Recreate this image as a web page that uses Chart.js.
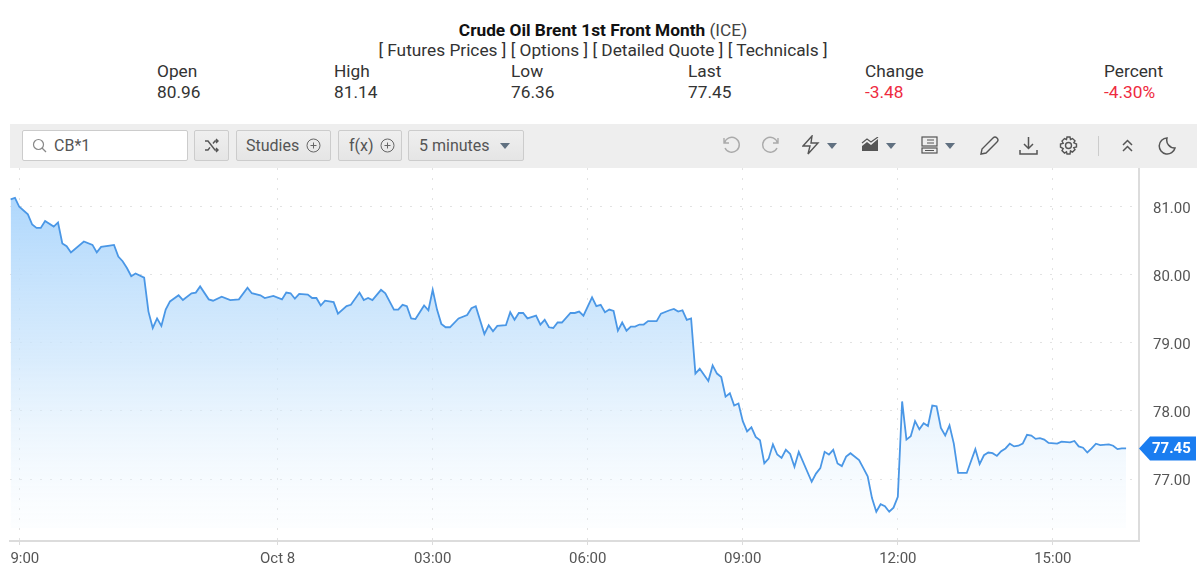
<!DOCTYPE html>
<html>
<head>
<meta charset="utf-8">
<title>Crude Oil Brent 1st Front Month</title>
<script src="https://cdn.jsdelivr.net/npm/chart.js@4"></script>
<style>
    html, body { margin: 0; padding: 0; background: #fff; overflow: hidden; }
    body { width: 1200px; height: 570px; position: relative; font-family: Roboto, sans-serif; font-size: 17.3px; color: #333; }
    .center { position: absolute; left: 0; width: 1206px; text-align: center; line-height: 20px; }
    .title { top: 20px; color: #444; }
    .title b { color: #111; font-weight: 700; }
    .links { top: 40px; }
    .stat { position: absolute; top: 61px; line-height: 21px; }
    .red { color: #ee2b3f; }
    #toolbar { position: absolute; left: 10px; top: 124px; width: 1187px; height: 44px; background: #eee; }
    .box { position: absolute; top: 6px; height: 29px; box-sizing: content-box; border: 1px solid #ccc; border-radius: 2px; background: linear-gradient(#efefef, #e5e5e5); color: #555; line-height: 29px; font-size: 16px; white-space: nowrap; }
    .box span { position: absolute; top: 0; }
    .box svg, #toolbar > svg { position: absolute; }
    #chartWrap { position: absolute; left: 0; top: 168px; width: 1200px; height: 402px; }
</style>
</head>
<body>
<div class="center title"><b>Crude Oil Brent 1st Front Month</b> (ICE)</div>
<div class="center links">[ Futures Prices ] [ Options ] [ Detailed Quote ] [ Technicals ]</div>
<div class="stat" style="left:157px">Open<br>80.96</div>
<div class="stat" style="left:334px">High<br>81.14</div>
<div class="stat" style="left:511px">Low<br>76.36</div>
<div class="stat" style="left:688px">Last<br>77.45</div>
<div class="stat" style="left:865px">Change<br><span class="red">-3.48</span></div>
<div class="stat" style="left:1104px">Percent<br><span class="red">-4.30%</span></div>

<div id="toolbar">
    <div class="box" style="left:12px;width:164px;background:#fff;">
        <svg style="left:9px;top:7px" width="15" height="15" viewBox="0 0 15 15" fill="none" stroke="#888" stroke-width="1.2"><circle cx="6.5" cy="6.5" r="5"/><path d="M10 10l4 4"/></svg>
        <span style="left:31px">CB*1</span>
    </div>
    <div class="box" style="left:184px;width:33px;">
        <svg style="left:9px;top:7px" width="15" height="15" viewBox="0 0 15 15" fill="none" stroke="#555" stroke-width="1.4"><path d="M1 3h3l7 9h3M1 12h3l2-2.6M9 5.5L11 3h3M12 1l2 2-2 2M12 10l2 2-2 2"/></svg>
    </div>
    <div class="box" style="left:226px;width:93px;">
        <span style="left:9px">Studies</span>
        <svg style="left:69px;top:7px" width="15" height="15" viewBox="0 0 15 15" fill="none" stroke="#666" stroke-width="1"><circle cx="7.5" cy="7.5" r="6.5"/><path d="M7.5 4.5v6M4.5 7.5h6"/></svg>
    </div>
    <div class="box" style="left:328px;width:62px;">
        <span style="left:10px">f(x)</span>
        <svg style="left:41px;top:7px" width="15" height="15" viewBox="0 0 15 15" fill="none" stroke="#666" stroke-width="1"><circle cx="7.5" cy="7.5" r="6.5"/><path d="M7.5 4.5v6M4.5 7.5h6"/></svg>
    </div>
    <div class="box" style="left:398px;width:114px;">
        <span style="left:10px">5 minutes</span>
        <svg style="left:90px;top:11px" width="12" height="8" viewBox="0 0 12 8"><path d="M1 1h10L6 7z" fill="#607080"/></svg>
    </div>
    <svg style="left:711px;top:11px" width="20" height="20" viewBox="0 0 20 20" fill="none" stroke="#aaa" stroke-width="1.4"><path d="M3 3v5h5M3.5 8A7.5 7.5 0 1 1 4 13"/></svg>
    <svg style="left:751px;top:11px" width="20" height="20" viewBox="0 0 20 20" fill="none" stroke="#aaa" stroke-width="1.4"><path d="M17 3v5h-5M16.5 8A7.5 7.5 0 1 0 16 13"/></svg>
    <svg style="left:792px;top:11px" width="18" height="20" viewBox="0 0 18 20" fill="none" stroke="#555" stroke-width="1.4"><path d="M10 1L1 11h7l-2 8 10-11H9z"/></svg>
    <svg style="left:816px;top:18px" width="12" height="8" viewBox="0 0 12 8"><path d="M1 1h10L6 7z" fill="#607080"/></svg>
    <svg style="left:851px;top:13px" width="19" height="16" viewBox="0 0 19 16"><path d="M1 9l5-4 4 3 7-6v12H1z" fill="#555"/><path d="M1 6l5-4 4 3 7-5" fill="none" stroke="#555" stroke-width="1.2"/></svg>
    <svg style="left:875px;top:18px" width="12" height="8" viewBox="0 0 12 8"><path d="M1 1h10L6 7z" fill="#607080"/></svg>
    <svg style="left:911px;top:12px" width="17" height="18" viewBox="0 0 17 18" fill="none" stroke="#555" stroke-width="1.2"><rect x="1" y="1" width="15" height="9"/><rect x="1" y="12" width="15" height="5"/><path d="M6 4h7M6 7h7M4 14.5h9"/></svg>
    <svg style="left:934px;top:18px" width="12" height="8" viewBox="0 0 12 8"><path d="M1 1h10L6 7z" fill="#607080"/></svg>
    <svg style="left:969px;top:12px" width="20" height="20" viewBox="0 0 20 20" fill="none" stroke="#555" stroke-width="1.4"><path d="M2 18l1-5L14 2a2 2 0 0 1 4 4L7 17z"/></svg>
    <svg style="left:1009px;top:12px" width="19" height="19" viewBox="0 0 19 19" fill="none" stroke="#555" stroke-width="1.5"><path d="M9.5 1v11M5 8l4.5 4.5L14 8M1 14v4h17v-4"/></svg>
    <svg style="left:1049px;top:12px" width="19" height="19" viewBox="0 0 19 19" fill="none" stroke="#555" stroke-width="1.4"><circle cx="9.5" cy="9.5" r="3"/><path d="M8 1h3l.5 2.5 2-1 2.5 2.3-1.2 2L17.5 8v3l-2.7.6 1.2 2-2.5 2.4-2-1.2L11 18H8l-.5-2.2-2 1.2L3 14.6l1.2-2L1.5 11V8l2.7-.8L3 5l2.5-2.5 2 1z"/></svg>
    <svg style="left:1088px;top:12px" width="1" height="20"><rect width="1" height="20" fill="#ccc"/></svg>
    <svg style="left:1111px;top:15px" width="13" height="14" viewBox="0 0 13 14" fill="none" stroke="#555" stroke-width="1.5"><path d="M2 6l4.5-4.5L11 6M2 12l4.5-4.5L11 12"/></svg>
    <svg style="left:1148px;top:13px" width="18" height="18" viewBox="0 0 18 18" fill="none" stroke="#555" stroke-width="1.5"><path d="M9 1a8 8 0 1 0 8 10A8 8 0 0 1 9 1z"/></svg>
</div>

<div id="chartWrap"><canvas id="brentChart" width="1200" height="402"></canvas></div>

<script>
// 5 minute bar number of every turning point
const bars = [0, 1, 2, 4, 5, 6, 7, 8, 10, 11, 12, 13, 14, 17, 19, 20, 21, 23, 24, 25, 26, 27, 28, 29, 31, 32, 33, 34, 35, 36, 37, 39, 40, 42, 43, 44, 46, 47, 49, 51, 53, 55, 56, 58, 59, 61, 63, 64, 65, 66,
    67, 69, 70, 71, 72, 73, 75, 76, 78, 79, 81, 82, 83, 84, 86, 87, 89, 90, 91, 92, 93, 94, 96, 97, 98, 99, 100, 101, 102, 104, 106, 107, 108, 110, 111, 112, 113, 115, 116, 117, 118, 119, 120, 122, 123, 124, 125, 126, 127, 128, 130, 131, 132, 133, 135,
    136, 137, 138, 139, 140, 141, 142, 143, 144, 145, 146, 147, 148, 150, 151, 153, 154, 155, 156, 157, 158, 159, 160, 162, 163, 164, 165, 166, 167, 168, 169, 170, 171, 172, 173, 174, 175, 176, 177, 178, 179, 180, 181, 182, 183, 186, 187, 188, 189, 190, 191, 192, 193, 194, 195, 197, 198, 199,
    200, 201, 202, 203, 204, 205, 206, 207, 208, 209, 210, 211, 212, 213, 214, 215, 216, 217, 218, 219, 220, 222, 224, 225, 226, 227, 228, 229, 230, 231, 232, 233, 234, 235, 236, 237, 238, 239, 240, 241, 243, 244, 246, 247, 248, 249, 250, 251, 252, 253, 255, 256, 257, 258, 259];
const prices = [81.11, 81.13, 81.00, 80.89, 80.74, 80.69, 80.69, 80.79, 80.71, 80.77, 80.46, 80.42, 80.33, 80.49, 80.44, 80.33, 80.41, 80.43, 80.44, 80.27, 80.20, 80.10, 79.98, 80.02, 79.96, 79.46, 79.22, 79.36, 79.25, 79.49, 79.61, 79.70, 79.63, 79.73, 79.74, 79.83, 79.64, 79.62, 79.68, 79.63, 79.64, 79.81, 79.73, 79.70, 79.66, 79.69, 79.64, 79.74, 79.73, 79.65,
    79.72, 79.71, 79.66, 79.66, 79.55, 79.62, 79.60, 79.43, 79.54, 79.56, 79.74, 79.63, 79.66, 79.63, 79.78, 79.73, 79.49, 79.49, 79.56, 79.54, 79.36, 79.35, 79.55, 79.48, 79.78, 79.49, 79.28, 79.23, 79.23, 79.36, 79.41, 79.51, 79.54, 79.13, 79.26, 79.17, 79.25, 79.26, 79.45, 79.34, 79.44, 79.44, 79.36, 79.40, 79.27, 79.34, 79.23, 79.22, 79.30, 79.30, 79.44, 79.44, 79.46, 79.40, 79.67,
    79.54, 79.56, 79.45, 79.49, 79.47, 79.18, 79.30, 79.18, 79.24, 79.24, 79.27, 79.27, 79.32, 79.32, 79.43, 79.48, 79.50, 79.46, 79.48, 79.34, 79.36, 78.55, 78.62, 78.44, 78.67, 78.55, 78.50, 78.21, 78.26, 78.08, 78.11, 77.85, 77.70, 77.76, 77.62, 77.57, 77.23, 77.30, 77.51, 77.36, 77.31, 77.43, 77.37, 77.18, 77.40, 76.96, 77.08, 77.16, 77.40, 77.36, 77.43, 77.23, 77.19, 77.33, 77.38, 77.28, 77.16, 77.04,
    76.72, 76.52, 76.63, 76.60, 76.52, 76.58, 76.74, 78.14, 77.58, 77.63, 77.85, 77.73, 77.82, 77.78, 78.08, 78.07, 77.75, 77.64, 77.79, 77.52, 77.09, 77.09, 77.44, 77.22, 77.35, 77.39, 77.38, 77.34, 77.41, 77.45, 77.52, 77.48, 77.49, 77.52, 77.65, 77.64, 77.59, 77.60, 77.58, 77.53, 77.52, 77.55, 77.54, 77.56, 77.48, 77.46, 77.39, 77.45, 77.52, 77.50, 77.51, 77.49, 77.44, 77.45, 77.45];
const tickBars = [2, 62, 98, 134, 170, 206, 242];
const tickLabels = ['   9:00', 'Oct 8', '03:00', '06:00', '09:00', '12:00', '15:00'];
const priceTicks = [77, 78, 79, 80, 81];
const lastPrice = 77.45;

const LINE = '#4a97e6';
const GRID = '#e2e2e2';
const AXIS = '#dcdcdc';
const LABEL = '#555';

// blue price tag on the right axis
const lastPriceTag = {
    id: 'lastPriceTag',
    afterDraw(chart) {
        const ctx = chart.ctx;
        const y = chart.scales.y.getPixelForValue(lastPrice);
        const x = chart.chartArea.right;
        ctx.save();
        ctx.fillStyle = '#1a7df0';
        ctx.beginPath();
        ctx.moveTo(x, y);
        ctx.lineTo(x + 11, y - 12);
        ctx.lineTo(x + 57, y - 12);
        ctx.lineTo(x + 57, y + 12);
        ctx.lineTo(x + 11, y + 12);
        ctx.closePath();
        ctx.fill();
        ctx.fillStyle = '#fff';
        ctx.font = 'bold 15px Roboto';
        ctx.textAlign = 'left';
        ctx.textBaseline = 'middle';
        ctx.fillText(lastPrice.toFixed(2), x + 13, y + 1);
        ctx.restore();
    },
};

const ctx = document.getElementById('brentChart').getContext('2d');
new Chart(ctx, {
    type: 'line',
    plugins: [lastPriceTag],
    data: {
        datasets: [{
            data: bars.map((bar, i) => ({ x: bar, y: prices[i] })),
            borderColor: LINE,
            borderWidth: 1.8,
            pointRadius: 0,
            tension: 0,
            fill: { value: 76.28 },
            backgroundColor: (context) => {
                const area = context.chart.chartArea;
                if (!area) return 'transparent';
                const gradient = context.chart.ctx.createLinearGradient(0, 28, 0, 358);
                gradient.addColorStop(0, 'rgba(170, 213, 252, 0.95)');
                gradient.addColorStop(0.5, 'rgba(205, 230, 252, 0.75)');
                gradient.addColorStop(1, 'rgba(240, 248, 254, 0.2)');
                return gradient;
            },
        }],
    },
    options: {
        responsive: false,
        animation: false,
        layout: { padding: { left: 10, right: 0, top: 0, bottom: 0 } },
        plugins: { legend: { display: false }, tooltip: { enabled: false } },
        scales: {
            x: {
                type: 'linear',
                min: -0.15,
                max: 262,
                afterFit: (scale) => {
                    scale.height = 29;
                    scale.paddingLeft = 0;
                    scale.paddingRight = 0;
                },
                afterBuildTicks: (scale) => { scale.ticks = tickBars.map(value => ({ value })); },
                grid: { color: GRID, tickLength: 4, tickColor: AXIS, tickBorderDash: [] },
                border: { color: AXIS, width: 2, dash: [2, 8] },
                ticks: {
                    autoSkip: false,
                    maxRotation: 0,
                    padding: 5,
                    color: LABEL,
                    font: { family: 'Roboto', size: 15 },
                    callback: (value) => tickLabels[tickBars.indexOf(value)],
                },
            },
            y: {
                position: 'right',
                min: 76.09,
                max: 81.57,
                afterFit: (scale) => {
                    scale.width = 61;
                    scale.paddingTop = 0;
                    scale.paddingBottom = 0;
                },
                afterBuildTicks: (scale) => { scale.ticks = priceTicks.map(value => ({ value })); },
                grid: { color: GRID, drawTicks: false },
                border: { color: AXIS, width: 2, dash: [2, 8] },
                ticks: {
                    padding: 14,
                    labelOffset: 2,
                    color: LABEL,
                    font: { family: 'Roboto', size: 15 },
                    callback: (value) => value.toFixed(2),
                },
            },
        },
    },
});
</script>
</body>
</html>
